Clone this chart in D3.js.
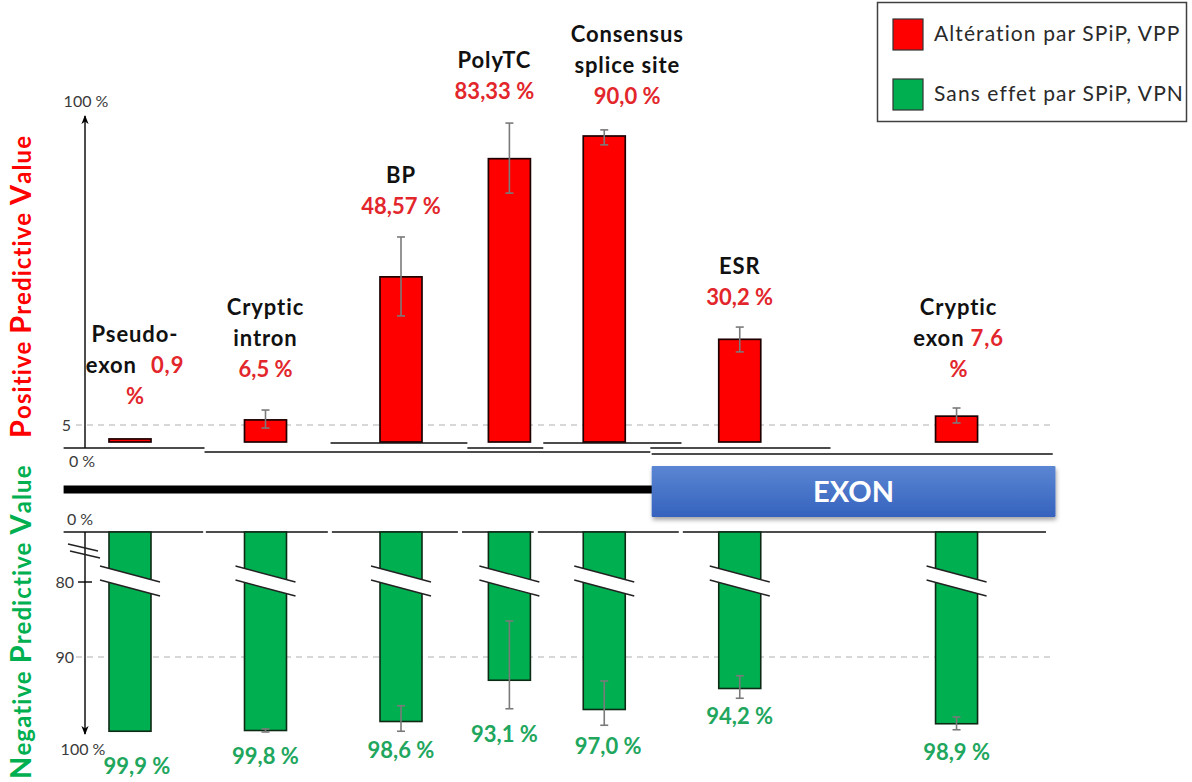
<!DOCTYPE html>
<html>
<head>
<meta charset="utf-8">
<script src="https://cdn.jsdelivr.net/npm/d3@7"></script>
<style>
  html, body { margin: 0; padding: 0; background: #fff; }
  svg { display: block; }
  text { font-family: Lato, "Open Sans", sans-serif; }
</style>
</head>
<body>
<svg id="chart" width="1192" height="782"></svg>
<script>
// ---------------- DATA ----------------
const categories = ["Pseudo-exon", "Cryptic intron", "BP", "PolyTC", "Consensus splice site", "ESR", "Cryptic exon"];
const nameLines = [["Pseudo-", "exon"], ["Cryptic", "intron"], ["BP"], ["PolyTC"], ["Consensus", "splice site"], ["ESR"], ["Cryptic", "exon"]];
const sitePos = [0, 1, 2, 2.8, 3.5, 4.5, 6.1];           // position along the gene sketch
const ppv = [0.9, 6.5, 48.57, 83.33, 90.0, 30.2, 7.6];     // VPP (%)
const ppvLow = [null, 4.1, 37.1, 73.2, 87.4, 26.5, 5.6];
const ppvHigh = [null, 9.4, 60.3, 93.8, 91.8, 33.8, 10.0];
const ppvLabels = ["0,9", "6,5 %", "48,57 %", "83,33 %", "90,0 %", "30,2 %", "7,6"];
const npv = [99.9, 99.8, 98.6, 93.1, 97.0, 94.2, 98.9];    // VPN (%)
const npvLow = [null, 99.6, 96.5, 85.2, 93.2, 92.5, 98.0];
const npvHigh = [null, 100, 99.9, 96.9, 99.1, 95.5, 99.7];
const npvLabels = ["99,9 %", "99,8 %", "98,6 %", "93,1 %", "97,0 %", "94,2 %", "98,9 %"];
const topTicks = [0, 5, 100];
const topTickLabels = ["0 %", "5", "100 %"];
const bottomTicks = [0, 80, 90, 100];
const bottomTickLabels = ["0 %", "80", "90", "100 %"];
const legendLabels = ["Altération par SPiP, VPP", "Sans effet par SPiP, VPN"];
const exonLabel = "EXON";

// ---------------- LAYOUT (not data) ----------------
const inlineValue = [true, false, false, false, false, false, true];
const labelDx = [5, 0, 0, -15, 23, 0, 2];
const labelGap = [35, 33, 23, 24, 26, 22, 31];
const npvLabelDx = [7, 0, 0, -5, 4, 0, 0];
const npvLabelGap = [43, 32, 27, 33, 29, 26, 30];
const RED = "#ff0000", GREEN = "#00b050", RED_TXT = "#e2262b", GREEN_TXT = "#21a65d";

const svg = d3.select("#chart");
const defs = svg.append("defs");

const x = d3.scaleLinear().domain([0, 1]).range([130, 265.5]);
const yTop = d3.scaleLinear().domain([0, 100]).range([442, 102]);
const yBot = d3.scaleLinear().domain([0, 80, 100]).range([532, 582, 732]);
const barW = 42;
const axisX = 85;

// arrow markers
defs.append("marker").attr("id", "arrow").attr("viewBox", "0 0 10 10")
  .attr("refX", 9).attr("refY", 5).attr("markerWidth", 9).attr("markerHeight", 9)
  .attr("orient", "auto-start-reverse").attr("markerUnits", "userSpaceOnUse")
  .append("path").attr("d", "M0,1 L10,5 L0,9 L3,5 Z").attr("fill", "#000");

// exon gradient + shadow
const grad = defs.append("linearGradient").attr("id", "exonGrad").attr("x1", 0).attr("y1", 0).attr("x2", 0).attr("y2", 1);
grad.append("stop").attr("offset", "0%").attr("stop-color", "#5b86d3");
grad.append("stop").attr("offset", "100%").attr("stop-color", "#3562bd");
const flt = defs.append("filter").attr("id", "shadow").attr("x", "-5%").attr("y", "-20%").attr("width", "110%").attr("height", "150%");
flt.append("feDropShadow").attr("dx", 1).attr("dy", 3).attr("stdDeviation", 2).attr("flood-color", "#000").attr("flood-opacity", 0.35);

// ---------------- Y axis titles ----------------
function titleText(cx, cy, color, parts) {
  const t = svg.append("text").attr("transform", `translate(${cx},${cy}) rotate(-90)`)
    .attr("fill", color).attr("font-weight", "bold").attr("text-anchor", "start")
    .attr("letter-spacing", 1.1);
  parts.forEach(p => t.append("tspan").attr("font-size", p[1]).text(p[0]));
}
titleText(31, 438, RED, [["P", 29], ["ositive ", 24], ["P", 29], ["redictive ", 24], ["V", 29], ["alue", 24]]);
titleText(31, 779, GREEN, [["N", 29], ["egative ", 24], ["P", 29], ["redictive ", 24], ["V", 29], ["alue", 24]]);

// ---------------- grid (dashed) ----------------
svg.append("line").attr("x1", 76).attr("x2", 1050).attr("y1", yTop(5)).attr("y2", yTop(5))
  .attr("stroke", "#b0b0b0").attr("stroke-width", 1.2).attr("stroke-dasharray", "6,5");
svg.append("line").attr("x1", 76).attr("x2", 1050).attr("y1", yBot(90)).attr("y2", yBot(90))
  .attr("stroke", "#b0b0b0").attr("stroke-width", 1.2).attr("stroke-dasharray", "6,5");

// ---------------- top axis ----------------
svg.append("line").attr("x1", axisX).attr("x2", axisX).attr("y1", 448).attr("y2", 116)
  .attr("stroke", "#000").attr("stroke-width", 1.4).attr("marker-end", "url(#arrow)");
const topTickPos = [
  { x: 82, dy: 25, anchor: "middle" },
  { x: 71, dy: 6, anchor: "end" },
  { x: 86, dy: 5, anchor: "middle" }
];
topTicks.forEach((v, i) => {
  const p = topTickPos[i];
  svg.append("text").attr("x", p.x).attr("y", yTop(v) + p.dy).attr("text-anchor", p.anchor)
    .attr("font-size", 16).attr("fill", "#3a3a3a").text(topTickLabels[i]);
});

// gene sketch lines under the PPV bars (segments in site units, offsets in px)
const baseSegs = [
  [-0.49, 0.55, 6], [0.55, 3.84, 10], [1.48, 2.49, 1], [2.49, 3.05, 6],
  [3.05, 4.07, 1], [3.84, 5.17, 6], [3.85, 6.81, 12]
];
svg.selectAll("line.seg").data(baseSegs).join("line").attr("class", "seg")
  .attr("x1", d => x(d[0])).attr("x2", d => x(d[1]))
  .attr("y1", d => yTop(0) + d[2]).attr("y2", d => yTop(0) + d[2])
  .attr("stroke", "#111").attr("stroke-width", 1.3);

// thick intron line + exon box
svg.append("line").attr("x1", x(-0.49)).attr("x2", x(3.86)).attr("y1", 489.5).attr("y2", 489.5)
  .attr("stroke", "#000").attr("stroke-width", 8);
svg.append("rect").attr("x", x(3.85)).attr("y", 466).attr("width", x(6.83) - x(3.85)).attr("height", 51)
  .attr("fill", "url(#exonGrad)").attr("filter", "url(#shadow)").attr("rx", 1);
svg.append("text").attr("x", (x(3.85) + x(6.83)) / 2).attr("y", 502).attr("text-anchor", "middle")
  .attr("font-size", 29).attr("font-weight", "bold").attr("fill", "#fff").text(exonLabel);

// ---------------- PPV bars ----------------
const gTop = svg.append("g");
gTop.selectAll("rect").data(ppv).join("rect")
  .attr("x", (d, i) => x(sitePos[i]) - barW / 2).attr("width", barW)
  .attr("y", d => yTop(d)).attr("height", d => yTop(0) - yTop(d))
  .attr("fill", RED).attr("stroke", "#1e0000").attr("stroke-width", 1.7);

function errBars(g, lows, highs, scale) {
  lows.forEach((lo, i) => {
    if (lo == null) return;
    const cx = x(sitePos[i]);
    const y1 = scale(lo), y2 = scale(highs[i]);
    g.append("line").attr("x1", cx).attr("x2", cx).attr("y1", y1).attr("y2", y2).attr("stroke", "#7a7a7a").attr("stroke-width", 1.6);
    [y1, y2].forEach(yy => g.append("line").attr("x1", cx - 4).attr("x2", cx + 4).attr("y1", yy).attr("y2", yy)
      .attr("stroke", "#7a7a7a").attr("stroke-width", 1.6));
  });
}
errBars(gTop, ppvLow, ppvHigh, yTop);

// PPV labels
categories.forEach((c, i) => {
  const cx = x(sitePos[i]) + labelDx[i];
  const topY = Math.min(yTop(ppv[i]), ppvHigh[i] == null ? Infinity : yTop(ppvHigh[i]));
  const lastBase = topY - labelGap[i];
  const lh = 31;
  const lines = nameLines[i];
  const nLines = lines.length + 1;
  lines.forEach((ln, j) => {
    const yy = lastBase - (nLines - 1 - j) * lh;
    const t = svg.append("text").attr("x", cx).attr("y", yy).attr("text-anchor", "middle")
      .attr("font-size", 22).attr("font-weight", "bold").attr("fill", "#111").attr("letter-spacing", 0.9);
    t.append("tspan").text(ln);
    if (inlineValue[i] && j === lines.length - 1) {
      t.append("tspan").attr("fill", RED_TXT).attr("dx", i === 0 ? 14 : 6).text(ppvLabels[i]);
    }
  });
  svg.append("text").attr("x", cx).attr("y", lastBase).attr("text-anchor", "middle")
    .attr("font-size", 22).attr("font-weight", "bold").attr("fill", RED_TXT)
    .text(inlineValue[i] ? "%" : ppvLabels[i]);
});

// ---------------- bottom axis ----------------
const botSegs = [[-0.49, 0.54], [0.56, 1.46], [1.49, 2.42], [2.45, 2.98], [3.01, 4.05], [4.08, 6.76]];
svg.selectAll("line.bseg").data(botSegs).join("line").attr("class", "bseg")
  .attr("x1", d => x(d[0])).attr("x2", d => x(d[1]))
  .attr("y1", yBot(0)).attr("y2", yBot(0)).attr("stroke", "#111").attr("stroke-width", 1.3);
svg.append("line").attr("x1", axisX).attr("x2", axisX).attr("y1", yBot(0)).attr("y2", yBot(100) + 2)
  .attr("stroke", "#000").attr("stroke-width", 1.4).attr("marker-end", "url(#arrow)");
svg.append("line").attr("x1", axisX - 7).attr("x2", axisX + 7).attr("y1", yBot(80)).attr("y2", yBot(80))
  .attr("stroke", "#000").attr("stroke-width", 1.4);
// axis break marks
[[0, 0], [2, 7]].forEach(o => {
  svg.append("line").attr("x1", 68 + o[0]).attr("y1", yBot(80) - 38 + o[1]).attr("x2", 98 + o[0]).attr("y2", yBot(80) - 31 + o[1])
    .attr("stroke", "#222").attr("stroke-width", 1.4);
});
const botTickPos = [
  { x: 80, dy: -7, anchor: "middle" },
  { x: 74, dy: 6, anchor: "end" },
  { x: 74, dy: 6, anchor: "end" },
  { x: 83, dy: 23, anchor: "middle" }
];
bottomTicks.forEach((v, i) => {
  const p = botTickPos[i];
  svg.append("text").attr("x", p.x).attr("y", yBot(v) + p.dy).attr("text-anchor", p.anchor)
    .attr("font-size", 16).attr("fill", "#3a3a3a").text(bottomTickLabels[i]);
});

// ---------------- NPV bars ----------------
const gBot = svg.append("g");
gBot.selectAll("rect").data(npv).join("rect")
  .attr("x", (d, i) => x(sitePos[i]) - barW / 2).attr("width", barW)
  .attr("y", yBot(0)).attr("height", d => yBot(d) - yBot(0))
  .attr("fill", GREEN).attr("stroke", "#0d2a14").attr("stroke-width", 1.6);
// break on each bar
npv.forEach((d, i) => {
  const cx = x(sitePos[i]);
  const y0 = yBot(80);
  const L = cx - 30, R = cx + 30;
  gBot.append("polygon")
    .attr("points", `${L},${y0 - 16} ${R},${y0} ${R},${y0 + 14} ${L},${y0 - 2}`)
    .attr("fill", "#fff");
  gBot.append("line").attr("x1", L).attr("y1", y0 - 16).attr("x2", R).attr("y2", y0).attr("stroke", "#222").attr("stroke-width", 1.4);
  gBot.append("line").attr("x1", L).attr("y1", y0 - 2).attr("x2", R).attr("y2", y0 + 14).attr("stroke", "#222").attr("stroke-width", 1.4);
});
errBars(gBot, npvLow, npvHigh, yBot);

// NPV labels
npv.forEach((d, i) => {
  const bottom = Math.max(yBot(d), npvHigh[i] == null ? -Infinity : yBot(npvHigh[i]));
  svg.append("text").attr("x", x(sitePos[i]) + npvLabelDx[i]).attr("y", bottom + npvLabelGap[i])
    .attr("text-anchor", "middle").attr("font-size", 22).attr("font-weight", "bold")
    .attr("fill", GREEN_TXT).text(npvLabels[i]);
});

// ---------------- legend ----------------
const lg = svg.append("g");
lg.append("rect").attr("x", 877.5).attr("y", 2.5).attr("width", 309).attr("height", 119)
  .attr("fill", "#fff").attr("stroke", "#404040").attr("stroke-width", 1.5);
[RED, GREEN].forEach((col, i) => {
  lg.append("rect").attr("x", 893).attr("y", 19 + i * 60).attr("width", 30).attr("height", 31)
    .attr("fill", col).attr("stroke", "#333").attr("stroke-width", 1.2);
  lg.append("text").attr("x", 934).attr("y", 41 + i * 60).attr("font-size", 21).attr("fill", "#2a2a2a")
    .attr("letter-spacing", 1.1).text(legendLabels[i]);
});
</script>
</body>
</html>
